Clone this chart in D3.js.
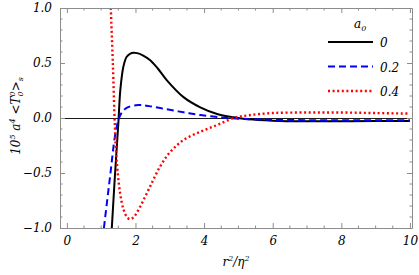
<!DOCTYPE html>
<html>
<head>
<meta charset="utf-8">
<script src="https://cdn.jsdelivr.net/npm/d3@7"></script>
<style>
  body { margin: 0; background: #fff; }
</style>
</head>
<body>
<svg id="drawing_region"></svg>
<script>
// series: x = r^2/eta^2, y = 10^5 a^4 <T0^0>_s
const labels = ["0", "0.2", "0.4"];
const colors = ["#000000", "#0000ff", "#ff0000"];

const x_a0 = [1.31, 1.40, 1.50, 1.56, 1.65, 1.74, 1.85, 1.94, 2.05, 2.2, 2.43, 2.65, 2.91, 3.40, 3.89, 4.38, 4.86, 5.3, 6, 7, 8, 9, 10];
const y_a0 = [-1.0, -0.53, -0.05, 0.26, 0.47, 0.555, 0.585, 0.594, 0.59, 0.572, 0.525, 0.45, 0.345, 0.19, 0.097, 0.036, 0.006, -0.012, -0.024, -0.03, -0.03, -0.028, -0.027];

const x_a2 = [1.08, 1.26, 1.40, 1.50, 1.58, 1.74, 2.08, 2.4, 2.91, 3.4, 3.89, 4.5, 5.0, 5.5, 6, 7, 8, 9, 10];
const y_a2 = [-1.0, -0.53, -0.17, -0.02, 0.04, 0.092, 0.118, 0.108, 0.079, 0.052, 0.027, 0.005, -0.006, -0.012, -0.016, -0.02, -0.021, -0.021, -0.02];

const x_a4 = [1.28, 1.34, 1.40, 1.45, 1.55, 1.65, 1.75, 1.84, 1.95, 2.13, 2.43, 2.72, 3.01, 3.40, 3.89, 4.38, 4.86, 5.3, 6, 7, 8, 9, 10];
const y_a4 = [1.0, 0.5, -0.08, -0.38, -0.68, -0.83, -0.9, -0.92, -0.9, -0.81, -0.62, -0.44, -0.31, -0.2, -0.125, -0.064, 0.0, 0.025, 0.045, 0.05, 0.05, 0.045, 0.04];

const x_ticks = [0, 2, 4, 6, 8, 10];
const y_ticks = [-1.0, -0.5, 0.0, 0.5, 1.0];

const series = [
  { name: labels[0], xs: x_a0, ys: y_a0 },
  { name: labels[1], xs: x_a2, ys: y_a2 },
  { name: labels[2], xs: x_a4, ys: y_a4 }
];

const width = 419, height = 275;
const margin = { top: 8, right: 7, bottom: 47, left: 60 };
const inner_width = width - margin.left - margin.right;
const inner_height = height - margin.top - margin.bottom;
const serif = 'DejaVu Serif';

const svg = d3.select('#drawing_region')
  .attr('width', width)
  .attr('height', height);

const chart = svg.append('g')
  .attr('transform', `translate(${margin.left}, ${margin.top})`);

const xscale = d3.scaleLinear().domain([-0.2, 10.06]).range([0, inner_width]);
const yscale = d3.scaleLinear().domain([-1, 1]).range([inner_height, 0]);

chart.append('clipPath').attr('id', 'clip')
  .append('rect').attr('width', inner_width).attr('height', inner_height);

// zero line
chart.append('line')
  .attr('x1', 0).attr('x2', inner_width)
  .attr('y1', yscale(0) + 0.5).attr('y2', yscale(0) + 0.5)
  .attr('stroke', '#000').attr('stroke-width', 0.9);

const dashes = [null, '7,4', '2,2.6'];
const widths = [2, 2, 2.4];

const line = d3.line()
  .x(d => xscale(d[0]))
  .y(d => yscale(d[1]))
  .curve(d3.curveCatmullRom.alpha(0.5));

series.forEach((s, i) => {
  chart.append('path')
    .datum(s.xs.map((x, j) => [x, s.ys[j]]))
    .attr('d', line)
    .attr('clip-path', 'url(#clip)')
    .attr('fill', 'none')
    .attr('stroke', colors[i])
    .attr('stroke-width', widths[i])
    .attr('stroke-dasharray', dashes[i]);
});

// frame with inward ticks on all sides
const frame = '#8c8c8c';

const xaxis_b = d3.axisBottom(xscale).tickValues(x_ticks).tickSize(-5).tickSizeOuter(0).tickPadding(8).tickFormat(d => d);
const xaxis_t = d3.axisTop(xscale).tickValues(x_ticks).tickSize(-5).tickSizeOuter(0).tickFormat('');
const yaxis_l = d3.axisLeft(yscale).tickValues(y_ticks).tickSize(-5).tickSizeOuter(0).tickPadding(8)
  .tickFormat(d => (d < 0 ? '\u2212' : '') + Math.abs(d).toFixed(1));
const yaxis_r = d3.axisRight(yscale).tickValues(y_ticks).tickSize(-5).tickSizeOuter(0).tickFormat('');

const minor_x = d3.range(0, 10.01, 0.5).filter(v => !x_ticks.includes(v));
const minor_y = d3.range(-0.9, 0.95, 0.1).map(v => +v.toFixed(1)).filter(v => !y_ticks.includes(v));

const groups = [
  chart.append('g').attr('transform', `translate(0, ${inner_height})`).call(xaxis_b),
  chart.append('g').call(xaxis_t),
  chart.append('g').call(yaxis_l),
  chart.append('g').attr('transform', `translate(${inner_width}, 0)`).call(yaxis_r)
];
groups.forEach(g => {
  g.attr('font-family', serif).attr('font-size', 12);
  g.select('.domain').attr('stroke', frame);
  g.selectAll('.tick line').attr('stroke', frame);
  g.selectAll('text').attr('fill', '#000')
    .attr('font-family', serif).attr('font-style', 'italic').attr('font-size', 12);
});

// minor ticks
minor_x.forEach(v => {
  chart.append('line').attr('x1', xscale(v)).attr('x2', xscale(v))
    .attr('y1', inner_height).attr('y2', inner_height - 2.5).attr('stroke', frame);
  chart.append('line').attr('x1', xscale(v)).attr('x2', xscale(v))
    .attr('y1', 0).attr('y2', 2.5).attr('stroke', frame);
});
minor_y.forEach(v => {
  chart.append('line').attr('x1', 0).attr('x2', 2.5)
    .attr('y1', yscale(v)).attr('y2', yscale(v)).attr('stroke', frame);
  chart.append('line').attr('x1', inner_width).attr('x2', inner_width - 2.5)
    .attr('y1', yscale(v)).attr('y2', yscale(v)).attr('stroke', frame);
});

function styled(sel, size) {
  return sel.attr('font-family', serif).attr('font-style', 'italic').attr('font-size', size);
}

// axis labels
const xlab = styled(svg.append('text'), 12)
  .attr('x', 236).attr('y', 266)
  .attr('text-anchor', 'middle');
xlab.append('tspan').text('r');
xlab.append('tspan').attr('dy', -5).attr('font-size', 8).text('2');
xlab.append('tspan').attr('dy', 5).text('/\u03b7');
xlab.append('tspan').attr('dy', -5).attr('font-size', 8).text('2');

const ylab = styled(svg.append('text'), 12)
  .attr('transform', 'translate(20, 116) rotate(-90)')
  .attr('text-anchor', 'middle');
ylab.append('tspan').text('10');
ylab.append('tspan').attr('dy', -5).attr('font-size', 8).text('5');
ylab.append('tspan').attr('dy', 5).text(' a');
ylab.append('tspan').attr('dy', -5).attr('font-size', 8).text('4');
ylab.append('tspan').attr('dy', 5).text(' <T');
ylab.append('tspan').attr('dy', 3).attr('font-size', 8).text('0');
ylab.append('tspan').attr('dy', -8).attr('dx', -5).attr('font-size', 8).text('0');
ylab.append('tspan').attr('dy', 5).text('>');
ylab.append('tspan').attr('dy', 3).attr('font-size', 8).text('s');

// legend
const legend = svg.append('g');
const lt = styled(legend.append('text'), 12).attr('x', 354).attr('y', 28);
lt.append('tspan').text('a');
lt.append('tspan').attr('dy', 3).attr('font-size', 8).text('0');

series.forEach((s, i) => {
  const yy = 42 + i * 24.5;
  legend.append('line')
    .attr('x1', 328).attr('x2', 373).attr('y1', yy).attr('y2', yy)
    .attr('stroke', colors[i]).attr('stroke-width', widths[i])
    .attr('stroke-dasharray', dashes[i]);
  styled(legend.append('text'), 12).attr('x', 380).attr('y', yy + 5).text(s.name);
});
</script>
</body>
</html>
